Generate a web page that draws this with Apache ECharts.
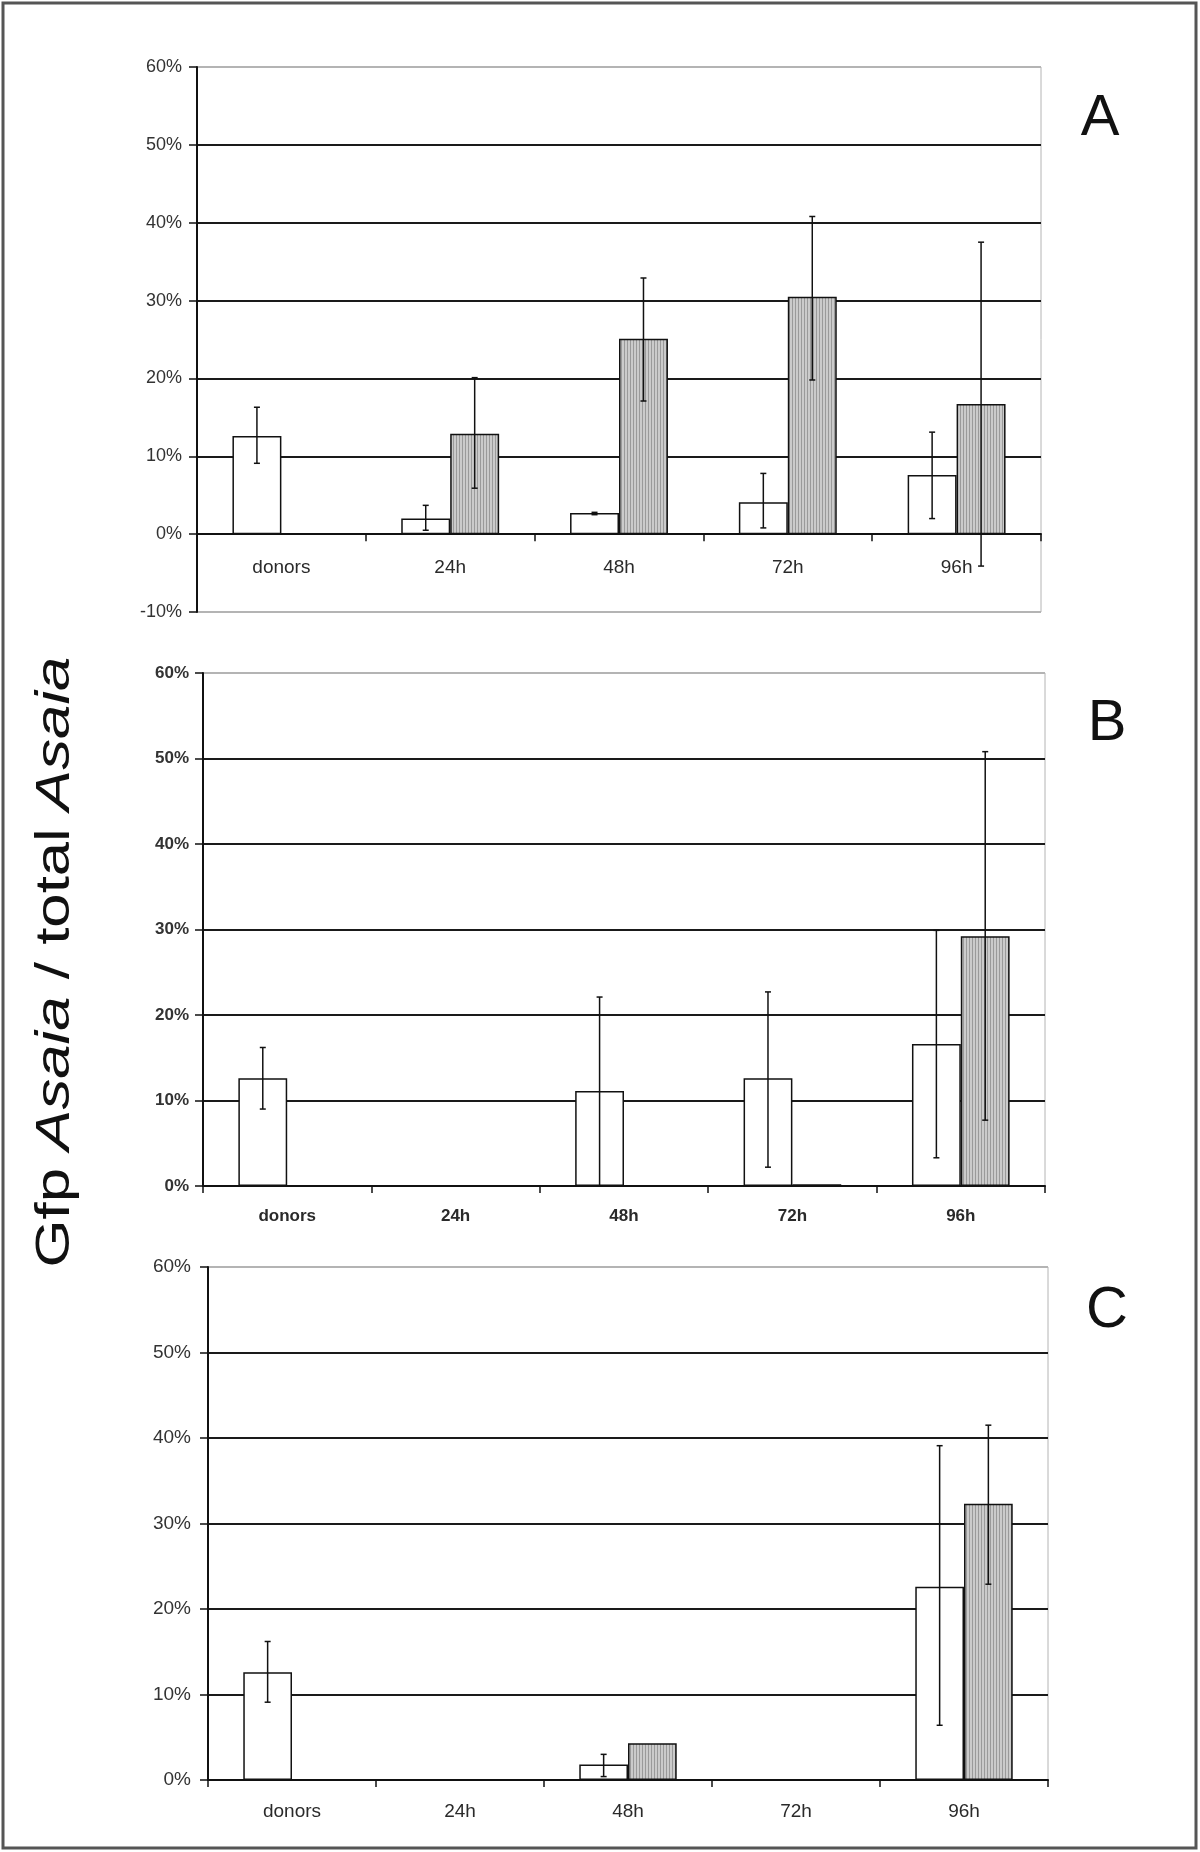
<!DOCTYPE html>
<html>
<head>
<meta charset="utf-8">
<script src="https://cdn.jsdelivr.net/npm/echarts@6/dist/echarts.min.js"></script>
<style>
  html, body { margin: 0; padding: 0; background: #fff; }
  #chart { width: 1200px; height: 1852px; }
</style>
</head>
<body>
<div id="chart"></div>
<script>
// categories shared by the three panels
const categories = ['donors', '24h', '48h', '72h', '96h'];
const yTicksA = [-10, 60];
const yTicksBC = [0, 60];

// panel A
const aWhite = [12.6, 2.0, 2.7, 4.1, 7.6];
const aWhiteLow = [9.1, 0.5, 2.5, 0.8, 2.0];
const aWhiteHigh = [16.3, 3.7, 2.8, 7.8, 13.1];
const aGray = [null, 12.9, 25.1, 30.5, 16.7];
const aGrayLow = [null, 5.9, 17.1, 19.8, -4.1];
const aGrayHigh = [null, 20.1, 32.9, 40.8, 37.5];

// panel B
const bWhite = [12.6, null, 11.1, 12.6, 16.6];
const bWhiteLow = [9.0, null, 0, 2.2, 3.3];
const bWhiteHigh = [16.2, null, 22.1, 22.7, 29.9];
const bGray = [null, null, null, 0.2, 29.2];
const bGrayLow = [null, null, null, null, 7.7];
const bGrayHigh = [null, null, null, null, 50.8];

// panel C
const cWhite = [12.6, null, 1.8, null, 22.6];
const cWhiteLow = [9.1, null, 0.4, null, 6.4];
const cWhiteHigh = [16.2, null, 3.0, null, 39.1];
const cGray = [null, null, 4.3, null, 32.3];
const cGrayLow = [null, null, null, null, 22.9];
const cGrayHigh = [null, null, null, null, 41.5];

const panels = [
  { white: aWhite, wl: aWhiteLow, wh: aWhiteHigh, gray: aGray, gl: aGrayLow, gh: aGrayHigh, ticks: yTicksA,
    grid: { left: 197, right: 159, top: 67, height: 545 },
    xFont: 19, yFont: 18, weight: 'normal', xMargin: -54, yMargin: 15, letter: 'A', lx: 1100, ly: 119 },
  { white: bWhite, wl: bWhiteLow, wh: bWhiteHigh, gray: bGray, gl: bGrayLow, gh: bGrayHigh, ticks: yTicksBC,
    grid: { left: 203, right: 155, top: 673, height: 513 },
    xFont: 17, yFont: 17, weight: 'bold', xMargin: 22, yMargin: 14, letter: 'B', lx: 1107, ly: 724 },
  { white: cWhite, wl: cWhiteLow, wh: cWhiteHigh, gray: cGray, gl: cGrayLow, gh: cGrayHigh, ticks: yTicksBC,
    grid: { left: 208, right: 152, top: 1267, height: 513 },
    xFont: 19, yFont: 19, weight: 'normal', xMargin: 22, yMargin: 17, letter: 'C', lx: 1107, ly: 1311 }
];

// vertical stripe fill for the grey bars
const pat = document.createElement('canvas');
pat.width = 3; pat.height = 4;
const pctx = pat.getContext('2d');
pctx.fillStyle = '#cbcbcb';
pctx.fillRect(0, 0, 3, 4);
pctx.fillStyle = '#9a9a9a';
pctx.fillRect(0, 0, 1, 4);

const BAR_FRAC = 0.29;

// error bars drawn with a custom series, offset onto the left or right bar
const errorItem = (offset) => (params, api) => {
  const band = api.size([1, 0])[0];
  const dx = offset * band * BAR_FRAC / 2;
  const top = api.coord([api.value(0), api.value(2)]);
  const bot = api.coord([api.value(0), api.value(1)]);
  const x = top[0] + dx;
  const style = { stroke: '#111', lineWidth: 1.5 };
  return {
    type: 'group',
    children: [
      { type: 'line', shape: { x1: x, y1: top[1], x2: x, y2: bot[1] }, style },
      { type: 'line', shape: { x1: x - 3, y1: top[1], x2: x + 3, y2: top[1] }, style },
      { type: 'line', shape: { x1: x - 3, y1: bot[1], x2: x + 3, y2: bot[1] }, style }
    ]
  };
};

const errData = (low, high) =>
  categories.map((c, i) => (low[i] == null ? null : [i, low[i], high[i]])).filter(Boolean);

const grids = [], xAxes = [], yAxes = [], series = [], graphics = [];

panels.forEach((p, k) => {
  grids.push(Object.assign({ show: true, borderColor: '#b4b4b4', borderWidth: 1 }, p.grid));
  xAxes.push({
    type: 'category',
    gridIndex: k,
    data: categories,
    axisLine: { onZero: true, lineStyle: { color: '#111', width: 2 } },
    axisTick: { show: true, length: 7, lineStyle: { color: '#111', width: 1.5 } },
    axisLabel: { color: '#2a2a2a', fontSize: p.xFont, fontWeight: p.weight, margin: p.xMargin, fontFamily: 'Liberation Sans, Arial' },
    splitLine: { show: false }
  });
  const nLines = (p.ticks[1] - p.ticks[0]) / 10 + 1;
  const lineColors = [];
  for (let i = 0; i < nLines; i++) lineColors.push(i === nLines - 1 || (i === 0 && p.ticks[0] < 0) ? '#b4b4b4' : '#1a1a1a');
  yAxes.push({
    type: 'value',
    gridIndex: k,
    min: p.ticks[0],
    max: p.ticks[1],
    interval: 10,
    axisLine: { show: true, onZero: false, lineStyle: { color: '#111', width: 2 } },
    axisTick: { show: true, length: 8, lineStyle: { color: '#111', width: 1.5 } },
    axisLabel: { formatter: '{value}%', color: '#333', fontSize: p.yFont, fontWeight: p.weight, margin: p.yMargin, fontFamily: 'Liberation Sans, Arial' },
    splitLine: { show: true, lineStyle: { color: lineColors, width: 2 } }
  });

  series.push({
    type: 'bar',
    xAxisIndex: k, yAxisIndex: k,
    data: p.white,
    barWidth: BAR_FRAC * 100 + '%',
    barGap: '0%',
    itemStyle: { color: '#fff', borderColor: '#111', borderWidth: 1.5 },
    z: 3
  });
  series.push({
    type: 'bar',
    xAxisIndex: k, yAxisIndex: k,
    data: p.gray,
    barWidth: BAR_FRAC * 100 + '%',
    barGap: '0%',
    itemStyle: { color: { image: pat, repeat: 'repeat' }, borderColor: '#111', borderWidth: 1.5 },
    z: 3
  });
  series.push({
    type: 'custom',
    xAxisIndex: k, yAxisIndex: k,
    renderItem: errorItem(-1),
    encode: { x: 0, y: [1, 2] },
    data: errData(p.wl, p.wh),
    z: 5
  });
  series.push({
    type: 'custom',
    xAxisIndex: k, yAxisIndex: k,
    renderItem: errorItem(1),
    encode: { x: 0, y: [1, 2] },
    data: errData(p.gl, p.gh),
    z: 5
  });

  // panel letter
  graphics.push({
    type: 'text',
    x: p.lx, y: p.ly,
    style: { text: p.letter, fontSize: 58, fill: '#111', fontFamily: 'Liberation Sans, Arial', align: 'center', verticalAlign: 'middle' }
  });
});

// outer frame
graphics.push({
  type: 'rect',
  shape: { x: 3, y: 3, width: 1193, height: 1845 },
  style: { fill: null, stroke: '#555', lineWidth: 3 }
});

// shared y title
graphics.push({
  type: 'text',
  x: 55, y: 962,
  rotation: Math.PI / 2,
  scaleX: 1.26,
  style: {
    text: 'Gfp {i|Asaia} / total {i|Asaia}',
    fontSize: 49,
    fill: '#111',
    fontFamily: 'Liberation Sans, Arial',
    align: 'center',
    verticalAlign: 'middle',
    rich: { i: { fontStyle: 'italic', fontSize: 49, fontFamily: 'Liberation Sans, Arial' } }
  }
});

const myChart = echarts.init(document.getElementById('chart'));
myChart.setOption({
  animation: false,
  backgroundColor: '#fff',
  grid: grids,
  xAxis: xAxes,
  yAxis: yAxes,
  series: series,
  graphic: graphics
});
</script>
</body>
</html>
